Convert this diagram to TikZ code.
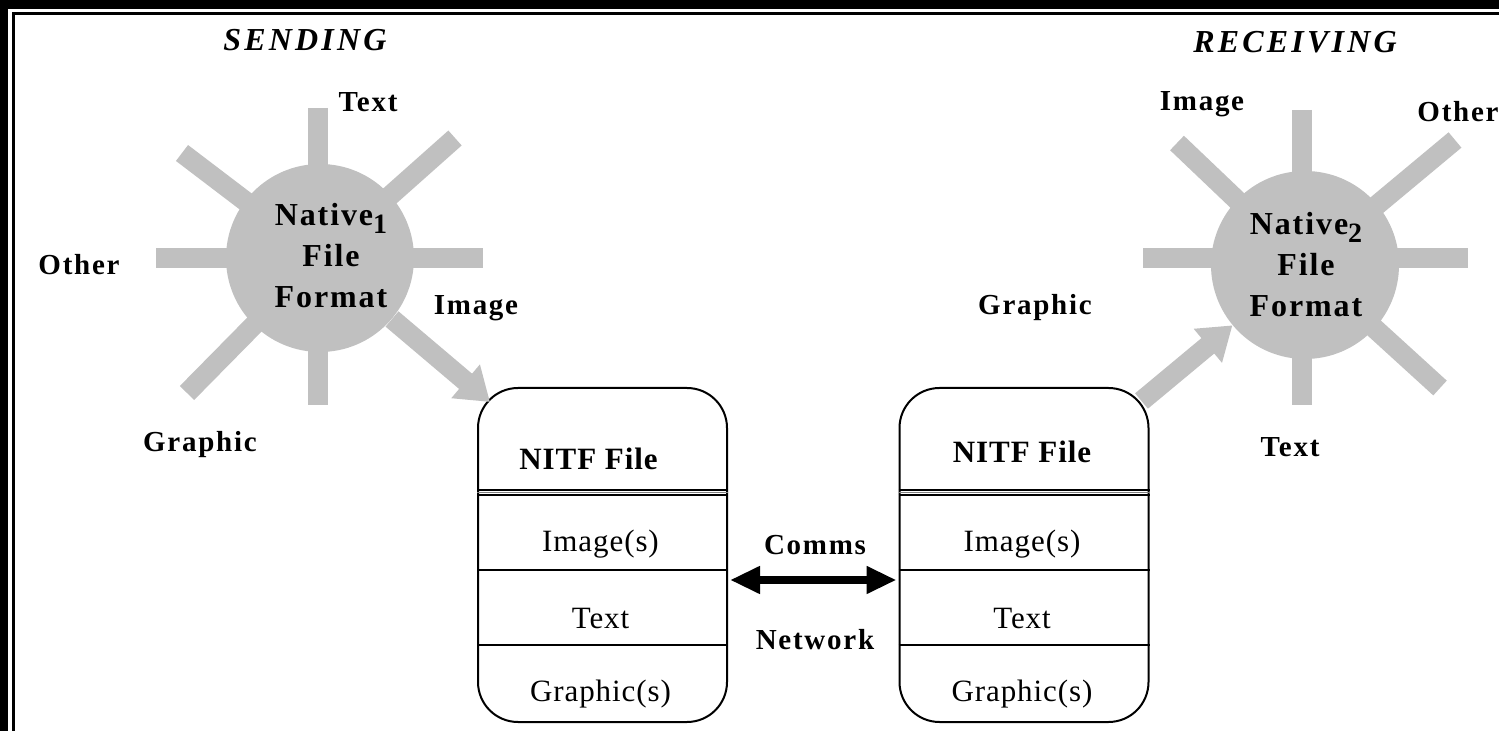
\documentclass[tikz,border=0pt]{standalone}
\usepackage{fontspec}
\setmainfont{Liberation Serif}
\newfontfamily\spacedA[LetterSpace=6]{Liberation Serif}
\newfontfamily\spacedB[LetterSpace=10]{Liberation Serif}
\newfontfamily\spacedC[LetterSpace=3]{Liberation Serif}
\usetikzlibrary{arrows.meta,calc}
\definecolor{raygray}{RGB}{192,192,192}
\tikzset{
  ray/.style={draw=raygray, line width=10pt},
  hub/.style={circle, fill=raygray, minimum size=94pt, inner sep=0pt},
  lbl/.style={font=\spacedA\bfseries\fontsize{14.5}{16}\selectfont, inner sep=0pt},
  headlbl/.style={font=\spacedB\bfseries\itshape\fontsize{16}{18}\selectfont, inner sep=0pt},
  hubtext/.style={font=\spacedA\bfseries\fontsize{16}{20.5}\selectfont, align=center, inner sep=0pt},
  filebox/.style={draw, line width=1pt, rounded corners=20pt, minimum width=124.5pt, minimum height=167pt, inner sep=0pt},
  boxtext/.style={font=\spacedC\fontsize{15.5}{17}\selectfont, inner sep=0pt},
  boxhead/.style={font=\spacedC\bfseries\fontsize{15.5}{17}\selectfont, inner sep=0pt},
  sep/.style={line width=0.8pt},
  raytip/.style={-{Triangle[length=16pt,width=21pt]}},
  commarrow/.style={line width=4pt, {Triangle[length=15pt,width=13pt]}-{Triangle[length=15pt,width=13pt]}},
}
\newcommand{\subnum}[1]{{\fontsize{14}{14}\selectfont\raisebox{-4pt}{#1}}}
\begin{document}
\begin{tikzpicture}[x=0.5pt,y=-0.5pt]
\useasboundingbox (0,0) rectangle (1499,731);
\fill[white] (0,0) rectangle (1499,731);
% frame
\fill[black] (0,0) rectangle (1499,9);
\fill[black] (0,0) rectangle (8,731);
\draw[line width=1.5pt] (13,731) -- (13,13.5) -- (1499,13.5);

% headings
\node[headlbl] (send) at (305,40) {SENDING};
\node[headlbl] (recv) at (1295,42) {RECEIVING};

% ---- left sun
\coordinate (c1) at (320,258);
\coordinate (l1t) at (318,108);
\coordinate (l1b) at (318,405);
\coordinate (l1l) at (156,258);
\coordinate (l1r) at (483,258);
\coordinate (l1ul) at (182,153);
\coordinate (l1ur) at (455,138);
\coordinate (l1ll) at (187,393);
\draw[ray] (l1t) -- (l1b);
\draw[ray] (l1l) -- (l1r);
\draw[ray] (l1ul) -- (c1);
\draw[ray] (l1ur) -- (c1);
\draw[ray] (l1ll) -- (c1);
\node[hub] (h1) at (c1) {};
\node[hubtext] (h1t) at (331,256) {Native\subnum{1}\\File\\Format};

\node[lbl] (lt1) at (368,102) {Text};
\node[lbl] (lo1) at (79,265) {Other};
\node[lbl] (li1) at (476,308) {Image};
\node[lbl] (lg1) at (200,445) {Graphic};

% ---- right sun
\coordinate (c2) at (1305,265);
\coordinate (l2t) at (1302,110);
\coordinate (l2b) at (1302,405);
\coordinate (l2l) at (1143,258);
\coordinate (l2r) at (1468,258);
\coordinate (l2ul) at (1177,143);
\coordinate (l2ur) at (1455,140);
\coordinate (l2lr) at (1440,388);
\draw[ray] (l2t) -- (l2b);
\draw[ray] (l2l) -- (l2r);
\draw[ray] (l2ul) -- (c2);
\draw[ray] (l2ur) -- (c2);
\draw[ray] (l2lr) -- (c2);
\node[hub] (h2) at (c2) {};
\node[hubtext] (h2t) at (1306,265) {Native\subnum{2}\\File\\Format};

\node[lbl] (li2) at (1202,104) {Image};
\node[lbl] (lo2) at (1458,112) {Other};
\node[lbl] (lg2) at (1035,308) {Graphic};
\node[lbl] (lt2) at (1290,447) {Text};

% ---- boxes
\node[filebox] (b1) at (602.5,555) {};
\node[filebox] (b2) at (1024,555) {};

\foreach \b in {b1,b2}{
  \draw[sep] ($(\b.north west)+(0,103)$) -- ($(\b.north east)+(0,103)$);
  \draw[sep,draw=gray] ($(\b.north west)+(0,105.5)$) -- ($(\b.north east)+(0,105.5)$);
  \draw[sep] ($(\b.north west)+(0,108)$) -- ($(\b.north east)+(0,108)$);
  \draw[sep] ($(\b.north west)+(0,183)$) -- ($(\b.north east)+(0,183)$);
  \draw[sep] ($(\b.north west)+(0,258)$) -- ($(\b.north east)+(0,258)$);
  \node[boxtext] (\b i) at ($(\b.north)+(-2,157)$) {Image(s)};
  \node[boxtext] (\b t) at ($(\b.north)+(-2,232)$) {Text};
  \node[boxtext] (\b g) at ($(\b.north)+(-2,307)$) {Graphic(s)};
}
\node[boxhead] (b1h) at ($(b1.north)+(-14,72)$) {NITF File};
\node[boxhead] (b2h) at ($(b2.north)+(-2,65)$) {NITF File};

% ---- ray arrows
\draw[ray,raytip] (h1) -- ($(b1.north west)+(13,15)$);
\draw[ray,raytip] ($(b2.north east)+(-8,14)$) -- (h2);

% ---- comms
\draw[commarrow] ($(b1.east)+(2,25)$) -- ($(b2.west)+(-2,25)$);
\node[lbl] (comms) at (815,545) {Comms};
\node[lbl] (net) at (815,640) {Network};
\end{tikzpicture}
\end{document}
